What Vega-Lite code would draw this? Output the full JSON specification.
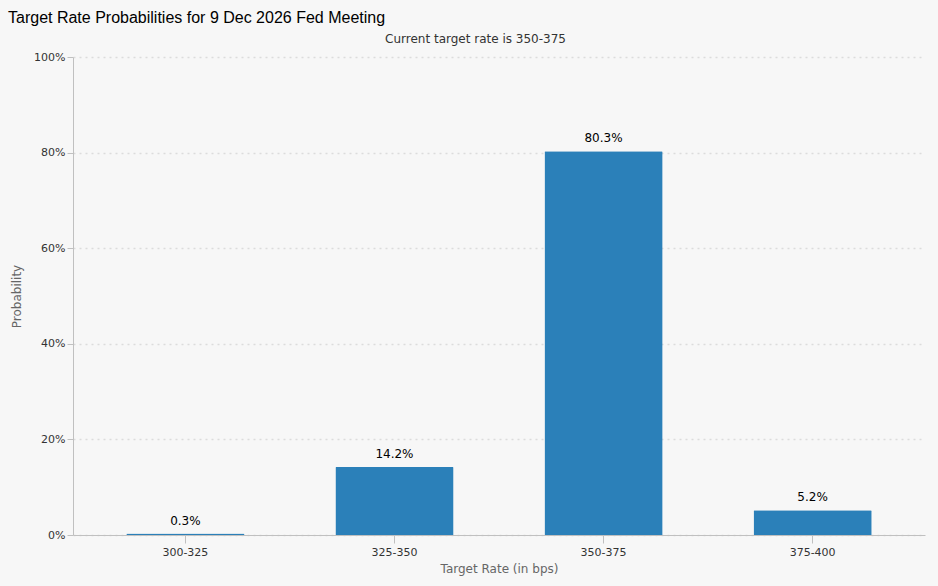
{
  "$schema": "https://vega.github.io/schema/vega-lite/v6.json",
  "width": 852,
  "height": 478,
  "autosize": {"type": "none"},
  "padding": {"left": 73, "top": 57, "right": 13, "bottom": 51},
  "background": "#f7f7f7",
  "title": {
    "text": "Target Rate Probabilities for 9 Dec 2026 Fed Meeting",
    "anchor": "start",
    "frame": "group",
    "dx": -65,
    "offset": 6,
    "font": "Liberation Sans",
    "fontSize": 16,
    "fontWeight": "normal",
    "color": "#000000"
  },
  "config": {
    "view": {"stroke": null},
    "axis": {
      "labelFont": "DejaVu Sans",
      "labelFontSize": 11,
      "labelColor": "#333333",
      "titleFont": "DejaVu Sans",
      "titleFontSize": 12,
      "titleFontWeight": "normal",
      "titleColor": "#666666",
      "domainColor": "#c0c0c0",
      "tickColor": "#c0c0c0"
    }
  },
  "data": {
    "values": [
      {"rate": "300-325", "prob": 0.003},
      {"rate": "325-350", "prob": 0.142},
      {"rate": "350-375", "prob": 0.803},
      {"rate": "375-400", "prob": 0.052}
    ]
  },
  "layer": [
    {
      "mark": {"type": "bar", "color": "#2b80b9", "cornerRadiusTopLeft": 1, "cornerRadiusTopRight": 1},
      "encoding": {
        "x": {
          "field": "rate",
          "type": "nominal",
          "sort": null,
          "scale": {"paddingInner": 0.435, "paddingOuter": 0.255},
          "axis": {
            "orient": "bottom",
            "title": "Target Rate (in bps)",
            "labelAngle": 0,
            "tickSize": 8,
            "labelPadding": 3,
            "titlePadding": 6,
            "grid": false
          }
        },
        "y": {
          "field": "prob",
          "type": "quantitative",
          "scale": {"domain": [0, 1], "nice": false},
          "axis": {
            "title": "Probability",
            "format": ".0%",
            "values": [0, 0.2, 0.4, 0.6, 0.8, 1],
            "tickSize": 6,
            "labelPadding": 2,
            "titlePadding": 10,
            "grid": true,
            "gridColor": "#dcdcdc",
            "gridDash": [2, 4],
            "gridWidth": 1.5,
            "domain": true
          }
        }
      }
    },
    {
      "mark": {"type": "text", "baseline": "bottom", "dy": -6, "font": "DejaVu Sans", "fontSize": 12, "color": "#000000"},
      "encoding": {
        "x": {
          "field": "rate",
          "type": "nominal",
          "sort": null,
          "axis": {
            "orient": "top",
            "title": "Current target rate is 350-375",
            "titleColor": "#333333",
            "titleX": 402,
            "titleAlign": "center",
            "titlePadding": 12,
            "labels": false,
            "ticks": false,
            "domain": false,
            "grid": false
          }
        },
        "y": {"field": "prob", "type": "quantitative"},
        "text": {"field": "prob", "type": "quantitative", "format": ".1%"}
      }
    }
  ],
  "resolve": {"axis": {"x": "independent"}}
}
